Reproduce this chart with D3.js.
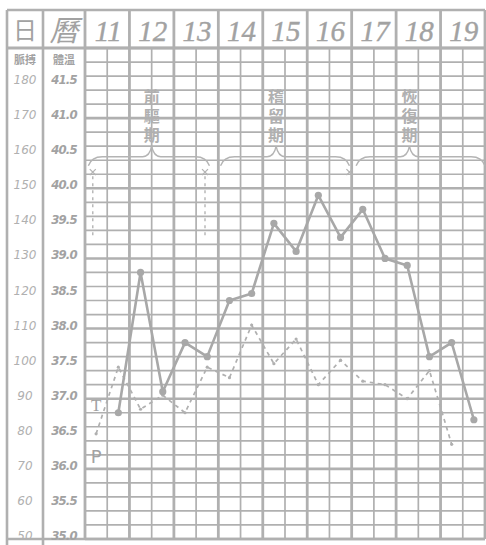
<!DOCTYPE html>
<html><head><meta charset="utf-8">
<script src="https://cdn.jsdelivr.net/npm/d3@7"></script>
<style>html,body{margin:0;padding:0;background:#fff;}svg{display:block;}</style>
</head><body>
<script>
// ---- data ----
const days = ["11","12","13","14","15","16","17","18","19"];
const pulseTicks = [180,170,160,150,140,130,120,110,100,90,80,70,60,50];
const tempTicks = [41.5,41.0,40.5,40.0,39.5,39.0,38.5,38.0,37.5,37.0,36.5,36.0,35.5,35.0];
// half-day slots: 0 = day 11 AM, 1 = day 11 PM, ...
const tempSlots = [1,2,3,4,5,6,7,8,9,10,11,12,13,14,15,16,17];
const tempValues = [36.8,38.8,37.1,37.8,37.6,38.4,38.5,39.5,39.1,39.9,39.3,39.7,39.0,38.9,37.6,37.8,36.7];
const pulseSlots = [0,1,2,3,4,5,6,7,8,9,10,11,12,13,14,15,16];
const pulseValues = [80,99,87,91,86,99,96,111,100,107,94,101,95,94,90,98,77];
const stageLabels = ["前驅期","稽留期","恢復期"];
const stageFrom = [0.15,6.1,12.2];
const stageTo = [5.6,11.9,18];
const stageTip = [3.0,8.6,14.6];
const markerSlots = [0.35,5.4,11.9];

const W = 486, H = 545;
const col = "#b0b0b0", txt = "#a2a2a2";
const svg = d3.select("body").append("svg").attr("width",W).attr("height",H);
svg.append("rect").attr("width",W).attr("height",H).attr("fill","#fff");

const x = d3.scaleLinear().domain([0,18]).range([85,485]);
const y = d3.scaleLinear().domain([35,42]).range([539,48]);
const yP = d3.scaleLinear().domain([50,190]).range([539,48]);

// horizontal grid
const hLines = d3.range(0,36).map(i => +(35 + i*0.2).toFixed(1));
svg.append("g").selectAll("line").data(hLines).join("line")
  .attr("x1",x(0)).attr("x2",x(18)).attr("y1",d=>y(d)).attr("y2",d=>y(d))
  .attr("stroke",col).attr("stroke-width",d=>Math.abs(d-Math.round(d))<1e-6?2.6:1.7);
// vertical grid
svg.append("g").selectAll("line").data(d3.range(0,19)).join("line")
  .attr("x1",d=>x(d)).attr("x2",d=>x(d)).attr("y1",d=>d%2===0?10:y(42)).attr("y2",y(35))
  .attr("stroke",col).attr("stroke-width",d=>d%2===0?2.8:1.7);
// left columns & frame
[7,43].forEach(xx=>svg.append("line").attr("x1",xx).attr("x2",xx).attr("y1",10).attr("y2",H)
  .attr("stroke",col).attr("stroke-width",2.6));
svg.append("line").attr("x1",7).attr("x2",485).attr("y1",10).attr("y2",10).attr("stroke",col).attr("stroke-width",2.6);
svg.append("line").attr("x1",7).attr("x2",485).attr("y1",y(42)).attr("y2",y(42)).attr("stroke",col).attr("stroke-width",2.8);
svg.append("line").attr("x1",7).attr("x2",485).attr("y1",y(35)).attr("y2",y(35)).attr("stroke",col).attr("stroke-width",2.4);

// header
svg.append("text").attr("x",25).attr("y",39).attr("text-anchor","middle")
  .attr("font-family","Noto Sans CJK JP").attr("font-size",24).attr("fill",txt).text("日");
svg.append("text").attr("x",64).attr("y",41).attr("text-anchor","middle")
  .attr("font-family","Noto Sans CJK JP").attr("font-size",29).attr("font-style","italic").attr("fill",txt).text("曆");
svg.append("g").selectAll("text").data(days).join("text")
  .attr("x",(d,i)=>x(i*2+1)+1).attr("y",41).attr("text-anchor","middle")
  .attr("font-family","Liberation Serif").attr("font-style","italic").attr("font-size",29)
  .attr("stroke",txt).attr("stroke-width",0.4)
  .attr("fill",txt).text(d=>d);
svg.append("text").attr("x",25).attr("y",64).attr("text-anchor","middle")
  .attr("font-family","Noto Sans CJK TC").attr("font-size",11).attr("font-weight","bold").attr("fill",txt).text("脈搏");
svg.append("text").attr("x",64).attr("y",64).attr("text-anchor","middle")
  .attr("font-family","Noto Sans CJK TC").attr("font-size",11).attr("font-weight","bold").attr("fill",txt).text("體溫");

// axis labels
svg.append("g").selectAll("text").data(pulseTicks).join("text")
  .attr("x",25).attr("y",d=>yP(d)+1).attr("text-anchor","middle")
  .attr("font-family","DejaVu Sans").attr("font-style","italic").attr("font-size",12)
  .attr("fill","#b0b0b0").text(d=>d);
svg.append("g").selectAll("text").data(tempTicks).join("text")
  .attr("x",64).attr("y",d=>y(d)+1).attr("text-anchor","middle")
  .attr("font-family","DejaVu Sans Condensed, DejaVu Sans").attr("font-style","italic").attr("font-weight","bold")
  .attr("font-size",13).attr("letter-spacing",-0.8)
  .attr("fill",txt).text(d=>d.toFixed(1));

// stage braces and labels
const brace = (a,b,t) => {
  const yb=y(40.45), ye=y(40.32), yt=y(40.6);
  return `M${x(a)},${ye} Q${x(a)+3},${yb} ${x(a)+14},${yb} L${x(t)-9},${yb} Q${x(t)-2},${yb} ${x(t)},${yt} Q${x(t)+2},${yb} ${x(t)+9},${yb} L${x(b)-14},${yb} Q${x(b)-3},${yb} ${x(b)},${ye}`;
};
svg.append("g").selectAll("path").data(stageLabels).join("path")
  .attr("d",(d,i)=>brace(stageFrom[i],stageTo[i],stageTip[i]))
  .attr("fill","none").attr("stroke","#b4b4b4").attr("stroke-width",1.4);
svg.append("g").selectAll("text").data(stageLabels).join("text")
  .attr("x",(d,i)=>x(stageTip[i])).attr("y",y(41.42))
  .style("writing-mode","vertical-rl").style("text-orientation","upright")
  .attr("letter-spacing",3)
  .attr("font-family","Noto Sans CJK TC").attr("font-size",16).attr("font-weight","bold")
  .attr("fill","#b0b0b0").text(d=>d);
// dotted vertical markers
markerSlots.forEach((m,i)=>{
  const xx=x(m), top=y(40.23);
  if(i<2) svg.append("line").attr("x1",xx).attr("x2",xx).attr("y1",top+4).attr("y2",y(39.33))
    .attr("stroke","#b4b4b4").attr("stroke-width",1.4).attr("stroke-dasharray","3,4");
  svg.append("path").attr("d",`M${xx-3},${top-3}L${xx+3},${top+3}M${xx+3},${top-3}L${xx-3},${top+3}`)
    .attr("stroke","#b4b4b4").attr("stroke-width",1.3);
});

// T / P labels
svg.append("text").attr("x",x(0.5)).attr("y",y(36.82)).attr("text-anchor","middle")
  .attr("font-family","Liberation Serif").attr("font-size",17).attr("fill",txt).text("T");
svg.append("text").attr("x",x(0.5)).attr("y",y(36.08)).attr("text-anchor","middle")
  .attr("font-family","DejaVu Sans").attr("font-size",18).attr("fill",txt).text("P");

// pulse (dashed)
const pulsePts = pulseSlots.map((s,i)=>[x(s+0.5),yP(pulseValues[i])]);
svg.append("path").attr("d",d3.line()(pulsePts)).attr("fill","none")
  .attr("stroke","#b0b0b0").attr("stroke-width",1.7).attr("stroke-dasharray","4,4");
svg.append("g").selectAll("circle").data(pulsePts).join("circle")
  .attr("cx",d=>d[0]).attr("cy",d=>d[1]).attr("r",1.6).attr("fill","#b0b0b0");

// temperature (solid)
const tempPts = tempSlots.map((s,i)=>[x(s+0.5),y(tempValues[i])]);
svg.append("path").attr("d",d3.line()(tempPts)).attr("fill","none")
  .attr("stroke","#a8a8a8").attr("stroke-width",2.6).attr("stroke-linejoin","round");
svg.append("g").selectAll("circle").data(tempPts).join("circle")
  .attr("cx",d=>d[0]).attr("cy",d=>d[1]).attr("r",3.6).attr("fill","#a8a8a8");
</script>
</body></html>
